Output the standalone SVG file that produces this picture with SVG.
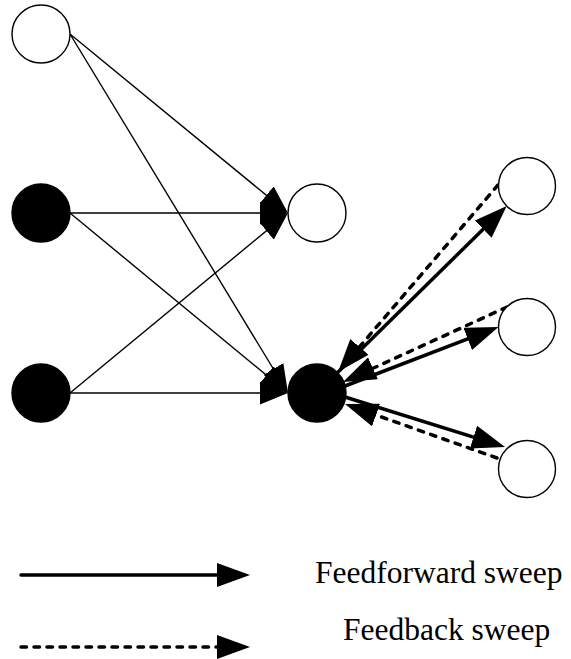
<svg xmlns="http://www.w3.org/2000/svg" width="571" height="659" viewBox="0 0 571 659">
  <style>
    .node { stroke: #000; stroke-width: 1.4; }
    .open { fill: #fff; }
    .solidnode { fill: #000; }
    .thin { fill: none; stroke: #000; stroke-width: 1.4; marker-end: url(#headThin); }
    .ff { fill: none; stroke: #000; stroke-width: 3.5; marker-end: url(#headThick); }
    .fb { fill: none; stroke: #000; stroke-width: 3.5; stroke-dasharray: 5.5 7.5; stroke-linecap: round; marker-end: url(#headThick); }
    .label { font-family: "Liberation Serif", "Times New Roman", serif; font-size: 31.5px; fill: #000; }
  </style>
  <defs>
    <marker id="headThin" markerUnits="userSpaceOnUse" viewBox="0 0 28 23" refX="16" refY="11.5" markerWidth="28" markerHeight="23" orient="auto">
      <path d="M0,0 L28,11.5 L0,23 Z" fill="#000"/>
    </marker>
    <marker id="headThick" markerUnits="userSpaceOnUse" viewBox="0 0 33 24" refX="21" refY="12" markerWidth="33" markerHeight="24" orient="auto">
      <path d="M0,0 L33,12 L0,24 Z" fill="#000"/>
    </marker>
  </defs>

  <!-- connectors -->
  <g id="connectors">
    <!-- input layer to hidden layer -->
    <line class="thin" x1="70" y1="34" x2="278.73" y2="205.39"/>
    <line class="thin" x1="70" y1="34" x2="281.77" y2="382.74"/>
    <line class="thin" x1="70" y1="213" x2="276" y2="213"/>
    <line class="thin" x1="70" y1="213" x2="278.75" y2="385.36"/>
    <line class="thin" x1="70" y1="393" x2="278.75" y2="220.64"/>
    <line class="thin" x1="70" y1="393" x2="276" y2="393"/>
    <!-- feedforward sweep -->
    <line class="ff" x1="337.6" y1="372.6" x2="498.15" y2="214.42"/>
    <line class="ff" x1="345" y1="386" x2="487.3" y2="331.31"/>
    <line class="ff" x1="345" y1="397" x2="493.54" y2="443.42"/>
    <!-- feedback sweep -->
    <line class="fb" x1="498" y1="185" x2="345.8" y2="362.88"/>
    <line class="fb" x1="507" y1="307" x2="353.92" y2="377.01"/>
    <line class="fb" x1="497" y1="458" x2="356.31" y2="408.02"/>
  </g>

  <!-- nodes -->
  <g id="in1"><circle class="node open" cx="41" cy="34" r="29"/></g>
  <g id="in2"><circle class="node solidnode" cx="41" cy="213" r="29"/></g>
  <g id="in3"><circle class="node solidnode" cx="41" cy="393" r="29"/></g>
  <g id="hid1"><circle class="node open" cx="317" cy="213" r="29"/></g>
  <g id="hid2"><circle class="node solidnode" cx="317" cy="393" r="29"/></g>
  <g id="out1"><circle class="node open" cx="527" cy="186" r="28.5"/></g>
  <g id="out2"><circle class="node open" cx="527" cy="327" r="28.5"/></g>
  <g id="out3"><circle class="node open" cx="527" cy="469" r="28.5"/></g>

  <!-- legend -->
  <g id="legend">
    <line class="ff" x1="21" y1="575" x2="238" y2="575" stroke-linecap="round"/>
    <line class="fb" x1="21" y1="647" x2="238" y2="647"/>
    <text class="label" x="315" y="583">Feedforward sweep</text>
    <text class="label" x="343" y="640">Feedback sweep</text>
  </g>
</svg>
